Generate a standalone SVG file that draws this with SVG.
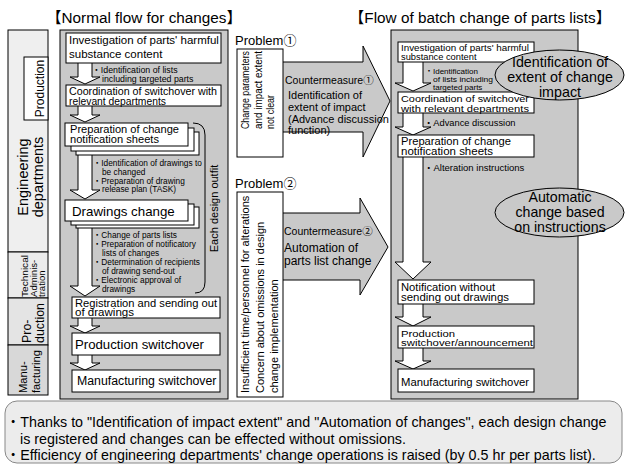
<svg xmlns="http://www.w3.org/2000/svg" width="627" height="466" viewBox="0 0 627 466">
<style>
text{font-family:"Liberation Sans",Arial,"Noto Sans CJK JP",sans-serif;fill:#000}
.box{fill:#fff;stroke:#000;stroke-width:1}
.panel{fill:#c9c9c9;stroke:#000;stroke-width:1}
.arr{fill:#fff;stroke:#000;stroke-width:1}
.big{fill:#c9c9c9;stroke:#000;stroke-width:1}
.ell{fill:#c9c9c9;stroke:#000;stroke-width:1}
.ttl{font-size:15.3px}
.s8{font-size:8.3px}
</style>
<rect width="627" height="466" fill="#fff"/>

<g id="titles">
<text class="ttl" x="144" y="23" text-anchor="middle">【Normal flow for changes】</text>
<text class="ttl" x="480" y="23" text-anchor="middle">【Flow of batch change of parts lists】</text>
</g>

<g id="lanes">
<rect x="8" y="30" width="40" height="222" fill="#efefef" stroke="#000"/>
<rect x="8" y="252" width="40" height="46" fill="#ebebeb" stroke="#000"/>
<rect x="8" y="298" width="40" height="47" fill="#e4e4e4" stroke="#000"/>
<rect x="8" y="345" width="40" height="50" fill="#d8d8d8" stroke="#000"/>
<rect x="24" y="57" width="24" height="63" fill="#fff" stroke="#000"/>
<text font-size="12" transform="translate(44,88.5) rotate(-90)" text-anchor="middle">Production</text>
<text font-size="14.5" transform="translate(28,177) rotate(-90)" text-anchor="middle">Engineering</text>
<text font-size="14.5" transform="translate(43,177) rotate(-90)" text-anchor="middle">departments</text>
<text font-size="9.6" transform="translate(28,297) rotate(-90)" textLength="42" lengthAdjust="spacingAndGlyphs">Technical</text>
<text font-size="9.6" transform="translate(36.5,297) rotate(-90)">Adminis-</text>
<text font-size="9.6" transform="translate(45,297) rotate(-90)">tration</text>
<text font-size="12.4" transform="translate(31,343) rotate(-90)">Pro-</text>
<text font-size="12.4" transform="translate(44,343) rotate(-90)">duction</text>
<text font-size="11.2" transform="translate(27,393) rotate(-90)">Manu-</text>
<text font-size="11.2" transform="translate(39.5,393) rotate(-90)">facturing</text>
</g>

<g id="panels">
<rect class="panel" x="60" y="30" width="168" height="369"/>
<rect class="panel" x="391" y="30" width="187" height="369"/>
</g>

<g id="connectors">
<path class="arr" d="M78,63 V77 H70 L85,84 L100,77 H92 V63"/>
<path class="arr" d="M78,106 V115 H70 L85,122 L100,115 H92 V106"/>
<path class="arr" d="M78,150 V190 H70 L85,199 L100,190 H92 V150"/>
<path class="arr" d="M78,224 V286 H70 L85,296 L100,286 H92 V224"/>
<path class="arr" d="M78,318 V326 H70 L85,333 L100,326 H92 V318"/>
<path class="arr" d="M78,355 V363 H70 L85,370 L100,363 H92 V355"/>
<path class="arr" d="M403,62 V83 H395 L413,91 L431,83 H423 V62"/>
<path class="arr" d="M403,113 V127 H395 L413,135 L431,127 H423 V113"/>
<path class="arr" d="M403,157 V262 H395 L413,279 L431,262 H423 V157"/>
<path class="arr" d="M403,304 V317 H395 L413,326 L431,317 H423 V304"/>
<path class="arr" d="M403,348 V361 H395 L413,369 L431,361 H423 V348"/>
<path class="big" d="M283,62 H363 V46 L390,101 L363,157 V132 H283"/>
<path class="big" d="M283,213 H360 V198 L388,247 L360,295 V280 H283"/>
<path d="M193,123 Q205,123 205,135 V282 Q205,293 195,293" fill="none" stroke="#000"/>
<text font-size="11" transform="translate(218,208.5) rotate(-90)" text-anchor="middle">Each design outfit</text>
</g>

<g id="n-investigation">
<rect class="box" x="66" y="33" width="155" height="30"/>
<text font-size="11.5" x="69" y="44">Investigation of parts' harmful</text>
<text font-size="11.5" x="69" y="58">substance content</text>
<text font-size="8.8" x="92" y="73">・Identification of lists</text>
<text font-size="8.8" x="102" y="82">including targeted parts</text>
</g>
<g id="n-coordination">
<rect class="box" x="66" y="85" width="155" height="21"/>
<text font-size="10" x="69" y="94.5" textLength="148" lengthAdjust="spacingAndGlyphs">Coordination of switchover with</text>
<text font-size="10" x="69" y="104.5" textLength="97" lengthAdjust="spacingAndGlyphs">relevant departments</text>
</g>
<g id="n-preparation">
<rect class="box" x="76" y="132" width="123" height="23"/>
<rect class="box" x="71" y="128" width="123" height="23"/>
<rect class="box" x="65" y="123" width="123" height="23"/>
<text font-size="10.3" x="70" y="132.5" textLength="109" lengthAdjust="spacingAndGlyphs">Preparation of change</text>
<text font-size="10.3" x="70" y="143" textLength="89" lengthAdjust="spacingAndGlyphs">notification sheets</text>
<text class="s8" x="93" y="166">・Identification of drawings to</text>
<text class="s8" x="102" y="174.5">be changed</text>
<text class="s8" x="93" y="183.5">・Preparation of drawing</text>
<text class="s8" x="102" y="192">release plan (TASK)</text>
</g>
<g id="n-drawings">
<rect class="box" x="76" y="207" width="123" height="21"/>
<rect class="box" x="71" y="204" width="123" height="21"/>
<rect class="box" x="65" y="200" width="123" height="21"/>
<text font-size="13.3" x="72" y="216">Drawings change</text>
<text class="s8" x="93" y="237.5">・Change of parts lists</text>
<text class="s8" x="93" y="246.5">・Preparation of notificatory</text>
<text class="s8" x="102" y="255.5">lists of changes</text>
<text class="s8" x="93" y="264.5">・Determination of recipients</text>
<text class="s8" x="102" y="273.5">of drawing send-out</text>
<text class="s8" x="93" y="282.5">・Electronic approval of</text>
<text class="s8" x="102" y="291.5">drawings</text>
</g>
<g id="n-registration">
<rect class="box" x="72" y="297" width="148" height="21"/>
<text font-size="10" x="75" y="306.5" textLength="142" lengthAdjust="spacingAndGlyphs">Registration and sending out</text>
<text font-size="10" x="75" y="316" textLength="59" lengthAdjust="spacingAndGlyphs">of drawings</text>
</g>
<g id="n-production">
<rect class="box" x="72" y="333" width="148" height="22"/>
<text font-size="13.2" x="75" y="349">Production switchover</text>
</g>
<g id="n-manufacturing">
<rect class="box" x="72" y="370" width="148" height="22"/>
<text font-size="12.3" x="77" y="385">Manufacturing switchover</text>
</g>

<g id="problem1">
<text font-size="13" x="235" y="45">Problem①</text>
<rect class="box" x="237" y="49" width="46" height="108"/>
<text font-size="11" transform="translate(249,129) rotate(-90)" textLength="78" lengthAdjust="spacingAndGlyphs">Change parameters</text>
<text font-size="11" transform="translate(261.5,129) rotate(-90)" textLength="78" lengthAdjust="spacingAndGlyphs">and impact extent</text>
<text font-size="11" transform="translate(274,129) rotate(-90)" textLength="34" lengthAdjust="spacingAndGlyphs">not clear</text>
</g>
<g id="measure1">
<text font-size="10.5" x="285" y="84">Countermeasure①</text>
<text font-size="11" x="288" y="99">Identification of</text>
<text font-size="11" x="288" y="111">extent of impact</text>
<text font-size="11" x="288" y="122.5">(Advance discussion</text>
<text font-size="11" x="288" y="134">function)</text>
</g>
<g id="problem2">
<text font-size="13" x="235" y="187.5">Problem②</text>
<rect class="box" x="237" y="192" width="46" height="205"/>
<text font-size="11" transform="translate(249,393) rotate(-90)">Insufficient time/personnel for alterations</text>
<text font-size="11" transform="translate(263.5,393) rotate(-90)">Concern about omissions in design</text>
<text font-size="11" transform="translate(278,393) rotate(-90)">change implementation</text>
</g>
<g id="measure2">
<text font-size="10.5" x="284" y="235">Countermeasure②</text>
<text font-size="12" x="284" y="251.5">Automation of</text>
<text font-size="12" x="284" y="264.5">parts list change</text>
</g>

<g id="b-investigation">
<rect class="box" x="398" y="42" width="136" height="20"/>
<text font-size="9.3" x="401" y="50.5" textLength="128" lengthAdjust="spacingAndGlyphs">Investigation of parts' harmful</text>
<text font-size="9.3" x="401" y="60">substance content</text>
<text font-size="8" x="425" y="73.5">・Identification</text>
<text font-size="8" x="433" y="81.5" textLength="60" lengthAdjust="spacingAndGlyphs">of lists including</text>
<text font-size="8" x="433" y="89.5">targeted parts</text>
</g>
<g id="b-coordination">
<rect class="box" x="398" y="92" width="136" height="21"/>
<text font-size="9.5" x="401" y="101.5" textLength="128" lengthAdjust="spacingAndGlyphs">Coordination of switchover</text>
<text font-size="9.5" x="401" y="111.5" textLength="128" lengthAdjust="spacingAndGlyphs">with relevant departments</text>
<text font-size="9.3" x="424" y="126">・Advance discussion</text>
</g>
<g id="b-preparation">
<rect class="box" x="398" y="135" width="136" height="22"/>
<text font-size="10" x="401" y="145" textLength="110" lengthAdjust="spacingAndGlyphs">Preparation of change</text>
<text font-size="10" x="401" y="155" textLength="92" lengthAdjust="spacingAndGlyphs">notification sheets</text>
<text font-size="9.5" x="424" y="171">・Alteration instructions</text>
</g>
<g id="b-notification">
<rect class="box" x="398" y="280" width="136" height="24"/>
<text font-size="10" x="401" y="290.5" textLength="94" lengthAdjust="spacingAndGlyphs">Notification without</text>
<text font-size="10" x="401" y="301" textLength="108" lengthAdjust="spacingAndGlyphs">sending out drawings</text>
</g>
<g id="b-production">
<rect class="box" x="398" y="326" width="136" height="22"/>
<text font-size="9.6" x="401" y="336.5" textLength="54" lengthAdjust="spacingAndGlyphs">Production</text>
<text font-size="9.6" x="401" y="346" textLength="132" lengthAdjust="spacingAndGlyphs">switchover/announcement</text>
</g>
<g id="b-manufacturing">
<rect class="box" x="398" y="369" width="136" height="23"/>
<text font-size="11.3" x="401" y="385.5">Manufacturing switchover</text>
</g>

<g id="e-identification">
<ellipse class="ell" cx="559.5" cy="75" rx="64.5" ry="25"/>
<text font-size="14.3" x="560" y="67" text-anchor="middle">Identification of</text>
<text font-size="14.3" x="560" y="82" text-anchor="middle">extent of change</text>
<text font-size="14.3" x="560" y="97" text-anchor="middle">impact</text>
</g>
<g id="e-automatic">
<ellipse class="ell" cx="559.5" cy="212.5" rx="64.5" ry="24.5"/>
<text font-size="14.2" x="560" y="201.5" text-anchor="middle">Automatic</text>
<text font-size="14.2" x="560" y="216.5" text-anchor="middle">change based</text>
<text font-size="14.2" x="560" y="231.5" text-anchor="middle">on instructions</text>
</g>

<g id="summary">
<rect x="5" y="401" width="617" height="62" rx="12" fill="#ececec" stroke="#888"/>
<text font-size="14.3" x="6" y="427">・Thanks to "Identification of impact extent" and "Automation of changes", each design change</text>
<text font-size="14.3" x="20" y="444">is registered and changes can be effected without omissions.</text>
<text font-size="14.3" x="6" y="460">・Efficiency of engineering departments' change operations is raised (by 0.5 hr per parts list).</text>
</g>
</svg>
